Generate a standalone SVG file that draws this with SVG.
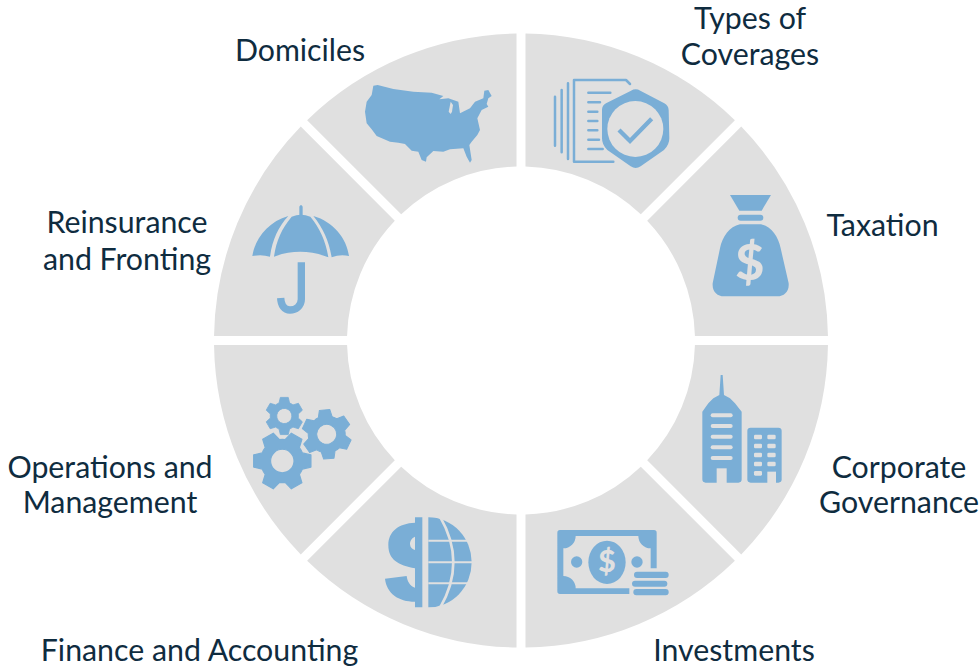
<svg xmlns="http://www.w3.org/2000/svg" xmlns:xlink="http://www.w3.org/1999/xlink" width="980" height="666" viewBox="0 0 980 666">
<style>
.seg{fill:#e0e0e0}
.ic{fill:#7aaed6}
.cut{fill:#e0e0e0}
.ln{fill:none;stroke:#7aaed6;stroke-linecap:round;stroke-linejoin:round}
.cl{fill:none;stroke:#e0e0e0}
.lb{font-family:"Lato","Liberation Sans",sans-serif;font-size:30.3px;fill:#0f2c3f;text-anchor:middle}
.d{font-family:"Lato","Liberation Sans",sans-serif;font-weight:900;fill:#e0e0e0;text-anchor:middle}
</style>
<defs>
<path id="w" class="seg" d="M4.5 -306.97A307 307 0 0 1 213.88 -220.24L119.81 -126.18A174 174 0 0 0 4.5 -173.94Z"/>
<path id="g" class="ic" fill-rule="evenodd" stroke="#7aaed6" stroke-width="4" stroke-linejoin="round" d="M68.6 -27.7L97.8 -20.8L97.8 20.8L68.6 27.7A74 74 0 0 1 58.3 45.6L66.9 74.3L30.9 95.1L10.3 73.3A74 74 0 0 1 -10.3 73.3L-30.9 95.1L-66.9 74.3L-58.3 45.6A74 74 0 0 1 -68.6 27.7L-97.8 20.8L-97.8 -20.8L-68.6 -27.7A74 74 0 0 1 -58.3 -45.6L-66.9 -74.3L-30.9 -95.1L-10.3 -73.3A74 74 0 0 1 10.3 -73.3L30.9 -95.1L66.9 -74.3L58.3 -45.6A74 74 0 0 1 68.6 -27.7ZM40 0A40 40 0 1 0 -40 0A40 40 0 1 0 40 0Z"/>
</defs>
<g id="connectors"></g>

<g id="types-of-coverages">
<use xlink:href="#w" href="#w" transform="translate(521 340.5)"/>
<g transform="translate(520 60) scale(.33333)">
<path class="ln" stroke-width="7.5" d="M105 110V257M125 90V277M144 70V297M280 305H162V60H318L330 72M205 98H271M205 127H240M205 155H232M205 183H232M205 211H232M205 239H237M205 267H248"/>
<path class="ic" d="M333 92Q347 84 361 92L433 130Q445 136 446 150L448 235Q448 255 432 270L362 319Q347 329 332 319L262 270Q246 255 246 235L246 150Q246 136 258 130Z"/>
<circle class="cut" cx="346" cy="207" r="84"/>
<path fill="none" stroke="#7aaed6" stroke-width="13" d="M297 210L330 243L395 176"/>
</g>
<text class="lb" x="750" y="29">Types of</text>
<text class="lb" x="750" y="65">Coverages</text>
</g>

<g id="taxation">
<use xlink:href="#w" href="#w" transform="translate(521 340.5) rotate(90) scale(-1 1)"/>
<g transform="translate(690 180) scale(.33333)">
<path class="ic" d="M120 45H243L215 92H148Z"/>
<rect class="ic" x="143" y="104" width="77" height="18" rx="9"/>
<path class="ic" d="M150 133H213C245 140 265 170 272 205L296 310C298 335 282 349 262 349H102C82 349 66 335 68 310L90 205C97 170 118 140 150 133Z"/>
<text class="d" x="179" y="301" font-size="150">$</text>
</g>
<text class="lb" x="882.500" y="236">Taxation</text>
</g>

<g id="corporate-governance">
<use xlink:href="#w" href="#w" transform="translate(521 340.5) rotate(90)"/>
<g transform="translate(690 370) scale(.33333)">
<path class="ic" d="M92 15H98L102 75L120 85L135 100L155 125V328Q155 338 145 338H47Q37 338 37 328V125L55 100L70 85L88 75Z"/>
<rect class="cut" x="80" y="295" width="30" height="45"/>
<rect class="cut" x="62" y="130" width="66" height="12" rx="6"/>
<rect class="cut" x="62" y="162" width="66" height="12" rx="6"/>
<rect class="cut" x="62" y="194" width="66" height="12" rx="6"/>
<rect class="cut" x="62" y="226" width="66" height="12" rx="6"/>
<rect class="cut" x="62" y="258" width="66" height="12" rx="6"/>
<rect class="ic" x="172" y="173" width="103" height="165" rx="10"/>
<g class="cut">
<rect x="192" y="194" width="24" height="14" rx="4"/><rect x="232" y="194" width="25" height="14" rx="4"/>
<rect x="192" y="221" width="24" height="14" rx="4"/><rect x="232" y="221" width="25" height="14" rx="4"/>
<rect x="192" y="248" width="24" height="14" rx="4"/><rect x="232" y="248" width="25" height="14" rx="4"/>
<rect x="192" y="275" width="24" height="14" rx="4"/><rect x="232" y="275" width="25" height="14" rx="4"/>
<rect x="192" y="303" width="24" height="14" rx="4"/><rect x="232" y="305" width="26" height="35"/>
</g>
</g>
<text class="lb" x="899" y="478">Corporate</text>
<text class="lb" x="899" y="513">Governance</text>
</g>

<g id="investments">
<use xlink:href="#w" href="#w" transform="translate(521 340.5) rotate(180) scale(-1 1)"/>
<g transform="translate(550 520) scale(.33333)">
<path class="ic" fill-rule="evenodd" d="M30 30H312Q320 30 320 38V145H302V85A37 37 0 0 1 265 48H77A37 37 0 0 1 40 85V168A37 37 0 0 1 77 205H238V222H30Q22 222 22 214V38Q22 30 30 30Z"/>
<ellipse class="ic" cx="171" cy="127" rx="56" ry="65"/>
<circle class="ic" cx="80" cy="126" r="17"/>
<circle class="ic" cx="261" cy="126" r="17"/>
<text class="d" x="171" y="156" font-size="90">$</text>
<rect class="ic" x="252" y="155" width="104" height="19" rx="9"/>
<rect class="ic" x="246" y="182" width="106" height="18" rx="9"/>
<rect class="ic" x="250" y="207" width="106" height="19" rx="9"/>
</g>
<text class="lb" x="734" y="661">Investments</text>
</g>

<g id="finance-and-accounting">
<use xlink:href="#w" href="#w" transform="translate(521 340.5) rotate(180)"/>
<g transform="translate(375 510) scale(.33333)">
<path class="ic" fill-rule="evenodd" d="M142 22V292H120V275C70 275 35 250 30 206L95 198C97 215 105 228 120 233V175C70 165 40 150 40 105C40 65 70 40 120 38V22ZM120 80C108 85 105 95 105 102C105 112 112 118 120 120Z"/>
<path class="ic" d="M160 22A130 135 0 0 1 160 292Z"/>
<path class="cl" stroke-width="8" d="M195 20Q275 157 195 294"/>
<path class="cl" stroke-width="6" d="M160 92H295M160 157H295M160 220H295"/>
</g>
<text class="lb" x="199.500" y="661">Finance and Accounting</text>
</g>

<g id="operations-and-management">
<use xlink:href="#w" href="#w" transform="translate(521 340.5) rotate(270) scale(-1 1)"/>
<use xlink:href="#g" href="#g" transform="translate(282.3 461) scale(.293)"/>
<use xlink:href="#g" href="#g" transform="translate(284.3 416) rotate(30) scale(.19)"/>
<use xlink:href="#g" href="#g" transform="translate(326.7 434.3) rotate(25) scale(.25)"/>
<text class="lb" x="110" y="478">Operations and</text>
<text class="lb" x="110" y="513">Management</text>
</g>

<g id="reinsurance-and-fronting">
<use xlink:href="#w" href="#w" transform="translate(521 340.5) rotate(270)"/>
<g transform="translate(245 200) scale(.33333)">
<path class="ic" d="M163 45V20Q168 10 173 20V45Z"/>
<path class="ic" d="M130 48C70 65 30 115 22 168Q50 162 75 170C82 120 100 80 130 48Z"/>
<path class="ic" d="M140 50Q168 38 196 50C225 85 243 125 250 172Q168 140 87 170C93 125 110 85 140 50Z"/>
<path class="ic" d="M205 48C265 65 305 115 312 168Q285 162 260 172C252 125 235 85 205 48Z"/>
<path fill="none" stroke="#7aaed6" stroke-width="22" d="M169 187V298C169 318 152 330 135 330C118 330 108 316 107 294"/>
</g>
<text class="lb" x="127" y="233">Reinsurance</text>
<text class="lb" x="127" y="270">and Fronting</text>
</g>

<g id="domiciles">
<use xlink:href="#w" href="#w" transform="translate(521 340.5) scale(-1 1)"/>
<g transform="translate(350 70) scale(.33333)">
<path class="ic" d="M70 47L83 45L130 57L190 65L245 68L280 78L268 88L295 85L325 95L330 130L360 115L375 95L400 85L403 62L415 60L425 78L415 85L410 102L415 110L395 120L382 145L390 180L382 195L365 215L358 225L365 270L360 278L350 260L340 235L300 238L280 245L250 243L230 262L228 275L215 270L205 245L185 242L165 222L145 218L120 215L80 198L65 178L50 160L45 125L50 95L65 75Z"/>
<path class="cut" d="M302 95L296 125L302 132L306 125L309 105Z"/>
</g>
<text class="lb" x="300" y="61">Domiciles</text>
</g>
</svg>
